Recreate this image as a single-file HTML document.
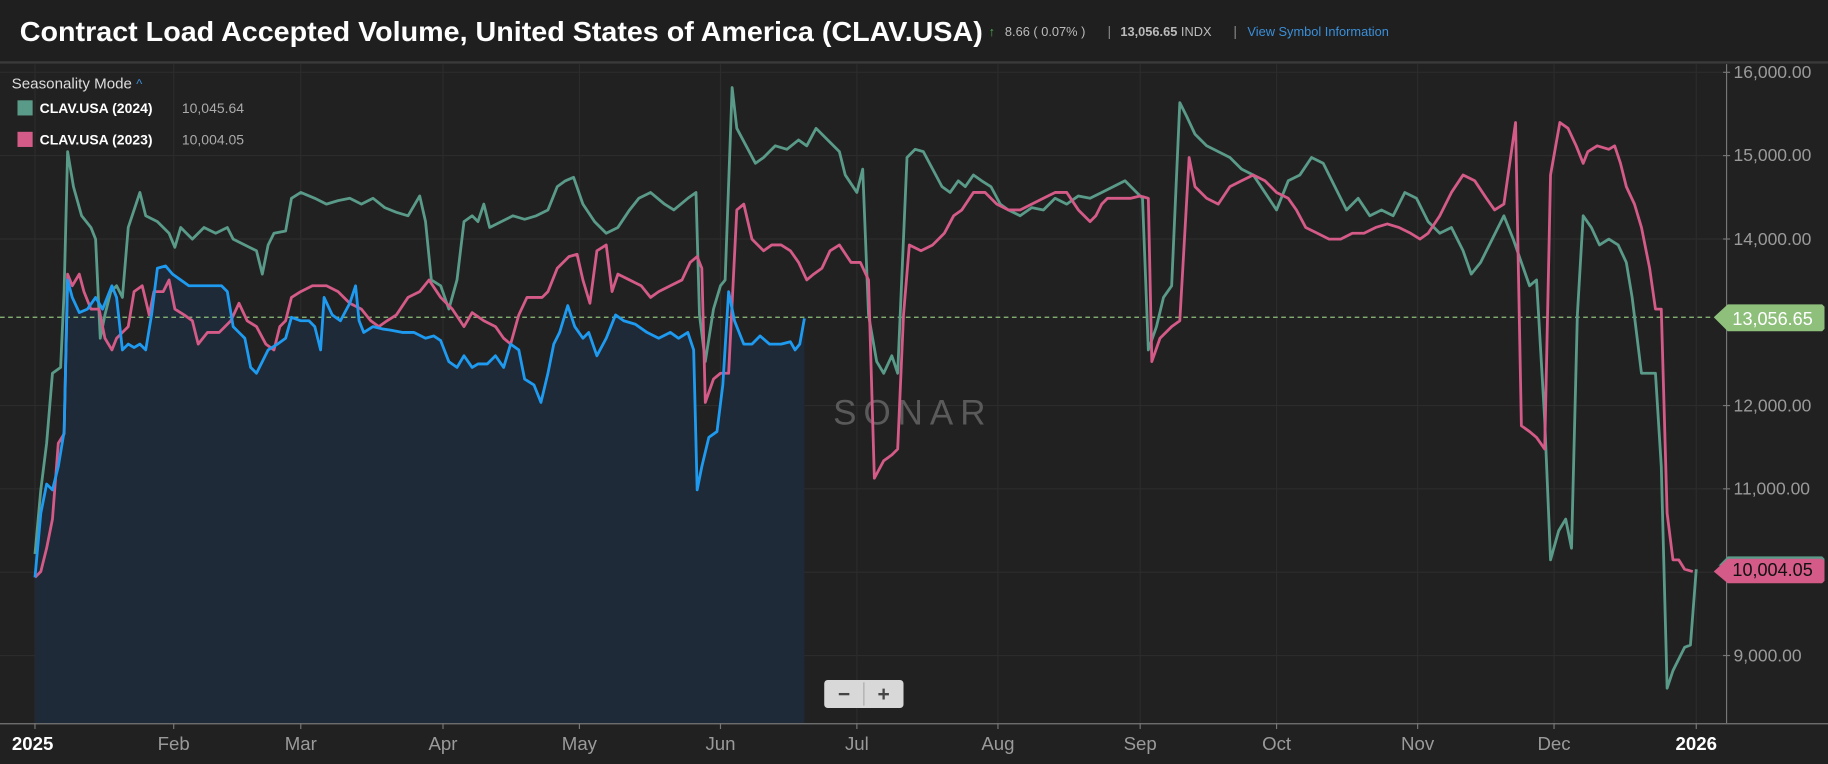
<!DOCTYPE html>
<html><head><meta charset="utf-8"><style>
html,body{margin:0;padding:0;background:#212121;}
svg{display:block;}
text{font-family:"Liberation Sans",sans-serif;}
</style></head><body>
<svg width="1828" height="764" viewBox="0 0 1568 655" preserveAspectRatio="none">
<rect x="0" y="0" width="1568" height="655" fill="#212121"/>
<rect x="0" y="0" width="1568" height="53" fill="#1f1f1f"/>
<line x1="0" y1="53.5" x2="1568" y2="53.5" stroke="#3a3a3a" stroke-width="2"/>
<text x="17" y="35" font-size="24" font-weight="bold" fill="#ffffff" textLength="826" lengthAdjust="spacingAndGlyphs">Contract Load Accepted Volume, United States of America (CLAV.USA)</text>
<text x="848" y="31" font-size="11" fill="#4caf50">↑</text>
<text x="862" y="31" font-size="11" fill="#bbbbbb">8.66 ( 0.07% )</text>
<text x="950" y="31" font-size="12" fill="#888">|</text>
<text x="961" y="31" font-size="11" fill="#bbbbbb" font-weight="bold">13,056.65 <tspan font-weight="normal">INDX</tspan></text>
<text x="1058" y="31" font-size="12" fill="#888">|</text>
<text x="1070" y="31" font-size="11" fill="#3b8fd9">View Symbol Information</text>
<g stroke="#2c2c2c" stroke-width="1">
<line x1="0" y1="62" x2="1481" y2="62"/><line x1="0" y1="133.4" x2="1481" y2="133.4"/>
<line x1="0" y1="204.9" x2="1481" y2="204.9"/><line x1="0" y1="347.7" x2="1481" y2="347.7"/>
<line x1="0" y1="419.1" x2="1481" y2="419.1"/><line x1="0" y1="490.6" x2="1481" y2="490.6"/>
<line x1="0" y1="562" x2="1481" y2="562"/>
<line x1="30" y1="55" x2="30" y2="620"/><line x1="149" y1="55" x2="149" y2="620"/><line x1="258" y1="55" x2="258" y2="620"/>
<line x1="380" y1="55" x2="380" y2="620"/><line x1="497" y1="55" x2="497" y2="620"/><line x1="618" y1="55" x2="618" y2="620"/>
<line x1="735" y1="55" x2="735" y2="620"/><line x1="856" y1="55" x2="856" y2="620"/><line x1="978" y1="55" x2="978" y2="620"/>
<line x1="1095" y1="55" x2="1095" y2="620"/><line x1="1216" y1="55" x2="1216" y2="620"/><line x1="1333" y1="55" x2="1333" y2="620"/>
<line x1="1455" y1="55" x2="1455" y2="620"/>
</g>
<polygon fill="#1e2a38" points="30,620 30,495 35,440 40,415 45,420 50,400 55,370 58,240 62,255 68,268 75,265 82,255 88,265 92,255 96,245 100,255 105,300 110,295 115,298 120,295 125,300 130,270 135,230 142,228 148,235 155,240 162,245 170,245 180,245 190,245 195,250 200,280 205,285 210,290 215,315 220,320 225,310 230,300 238,295 245,290 250,272 258,275 265,275 270,280 275,300 278,255 285,270 292,275 300,260 305,245 308,275 312,285 320,280 328,282 335,283 345,285 355,285 365,290 372,288 378,292 385,310 392,315 398,305 405,315 410,312 418,312 425,305 432,315 438,295 445,300 450,325 458,330 464,345 470,320 475,295 480,285 487,262 493,280 500,290 505,285 512,305 520,290 528,270 535,275 545,278 555,285 565,290 575,285 582,290 590,285 595,300 598,420 602,400 608,375 615,370 620,330 625,250 630,275 638,295 645,295 652,288 660,295 670,295 678,293 682,300 686,295 690,273 690,620"/>
<text x="783" y="364" font-size="30" fill="#5a5a5a" text-anchor="middle" letter-spacing="6">SONAR</text>
<line x1="0" y1="272" x2="1470" y2="272" stroke="#8ec07c" stroke-width="1" stroke-dasharray="4,3"/>
<g fill="none" stroke-width="2.4" stroke-linejoin="round">
<polyline stroke="#5a9a88" points="30,475 35,420 40,380 45,320 52,315 55,250 58,130 63,160 70,185 78,195 82,205 86,290 90,270 95,250 100,245 105,255 110,195 120,165 125,185 135,190 145,200 150,212 155,195 165,205 175,195 185,200 195,195 200,205 210,210 220,215 225,235 230,210 235,200 245,198 250,170 258,165 270,170 280,175 290,172 300,170 310,175 320,170 330,178 340,182 350,185 360,168 365,190 370,240 378,245 385,265 392,240 398,190 405,185 410,190 415,175 420,195 430,190 440,185 450,188 460,185 470,180 478,160 485,155 492,152 500,175 510,190 520,200 530,195 540,180 548,170 558,165 570,175 578,180 590,170 597,165 600,270 605,310 612,265 618,245 622,240 628,75 632,110 640,125 648,140 655,135 665,125 675,128 685,120 692,125 700,110 710,120 720,130 725,150 735,165 740,145 745,270 752,310 758,320 765,305 770,320 778,135 785,128 792,130 800,145 808,160 815,165 822,155 828,160 835,150 842,155 850,160 858,175 865,180 875,185 885,178 895,180 905,170 915,175 925,168 935,170 945,165 955,160 965,155 975,165 980,170 985,300 992,280 998,255 1005,245 1012,88 1018,100 1025,115 1035,125 1045,130 1055,135 1065,145 1075,150 1085,165 1095,180 1105,155 1115,150 1125,135 1135,140 1145,160 1155,180 1165,170 1175,185 1185,180 1195,185 1205,165 1215,170 1225,190 1235,200 1245,195 1255,215 1262,235 1270,225 1280,205 1290,185 1298,205 1305,225 1312,245 1318,240 1325,360 1330,480 1337,455 1343,445 1348,470 1353,270 1358,185 1365,195 1372,210 1380,205 1388,210 1395,225 1400,255 1408,320 1420,320 1425,400 1430,590 1435,575 1440,565 1445,555 1450,553 1455,488"/>
<polyline stroke="#d45a87" points="30,495 35,490 40,470 45,445 50,380 55,372 58,235 62,245 68,235 72,250 78,265 85,265 90,290 96,300 100,290 105,285 110,280 115,250 122,245 128,270 132,250 140,250 145,240 150,265 158,270 165,275 170,295 178,285 188,285 198,275 205,260 212,275 220,280 228,295 235,300 240,280 245,275 250,255 258,250 268,245 280,245 290,250 300,260 310,265 318,275 325,280 332,275 340,270 350,255 360,250 368,240 378,255 388,265 398,280 405,268 415,275 425,280 432,290 438,295 445,270 452,255 465,255 470,250 478,230 488,220 495,218 500,240 506,260 512,215 520,210 525,250 530,235 540,240 550,245 558,255 565,250 575,245 585,240 592,225 598,220 602,230 605,345 612,325 618,320 625,320 632,180 638,175 645,205 655,215 662,210 670,210 678,215 685,225 692,240 698,235 705,230 712,215 720,210 730,225 738,225 745,240 750,410 758,395 765,390 770,385 775,270 780,210 790,215 800,210 810,200 818,185 825,180 835,165 845,165 855,175 865,180 875,180 885,175 895,170 905,165 915,165 925,180 935,190 940,185 945,175 950,170 960,170 970,170 978,168 985,170 988,310 995,290 1005,280 1012,275 1020,135 1025,160 1035,170 1045,175 1055,160 1065,155 1075,150 1085,155 1095,165 1105,170 1112,180 1120,195 1130,200 1140,205 1150,205 1160,200 1170,200 1180,195 1190,192 1200,195 1210,200 1218,205 1225,200 1235,185 1245,165 1255,150 1265,155 1275,170 1282,180 1290,175 1295,140 1300,105 1305,365 1312,370 1318,375 1325,385 1330,150 1338,105 1345,110 1352,125 1358,140 1362,130 1370,125 1380,128 1385,125 1390,140 1395,160 1402,175 1408,195 1415,230 1420,265 1425,265 1430,440 1435,480 1440,480 1445,488 1452,490"/>
<polyline stroke="#1e9bf0" points="30,495 35,440 40,415 45,420 50,400 55,370 58,240 62,255 68,268 75,265 82,255 88,265 92,255 96,245 100,255 105,300 110,295 115,298 120,295 125,300 130,270 135,230 142,228 148,235 155,240 162,245 170,245 180,245 190,245 195,250 200,280 205,285 210,290 215,315 220,320 225,310 230,300 238,295 245,290 250,272 258,275 265,275 270,280 275,300 278,255 285,270 292,275 300,260 305,245 308,275 312,285 320,280 328,282 335,283 345,285 355,285 365,290 372,288 378,292 385,310 392,315 398,305 405,315 410,312 418,312 425,305 432,315 438,295 445,300 450,325 458,330 464,345 470,320 475,295 480,285 487,262 493,280 500,290 505,285 512,305 520,290 528,270 535,275 545,278 555,285 565,290 575,285 582,290 590,285 595,300 598,420 602,400 608,375 615,370 620,330 625,250 630,275 638,295 645,295 652,288 660,295 670,295 678,293 682,300 686,295 690,273"/>
</g>
<line x1="1481" y1="55" x2="1481" y2="620" stroke="#777" stroke-width="1"/>
<line x1="0" y1="620.5" x2="1568" y2="620.5" stroke="#777" stroke-width="1"/>
<g font-size="15" fill="#9a9a9a">
<text x="1487" y="67">16,000.00</text><text x="1487" y="138">15,000.00</text><text x="1487" y="210">14,000.00</text>
<text x="1487" y="353">12,000.00</text><text x="1487" y="424">11,000.00</text><text x="1487" y="567">9,000.00</text>
</g>
<g stroke="#777"><line x1="1478" y1="62" x2="1484" y2="62"/><line x1="1478" y1="133.4" x2="1484" y2="133.4"/><line x1="1478" y1="204.9" x2="1484" y2="204.9"/><line x1="1478" y1="347.7" x2="1484" y2="347.7"/><line x1="1478" y1="419.1" x2="1484" y2="419.1"/><line x1="1478" y1="562" x2="1484" y2="562"/></g>
<polygon points="1470,272 1482,261 1563,261 1565,263 1565,282 1563,284 1482,284" fill="#8ec07c"/>
<text x="1486" y="278.5" font-size="15.5" fill="#ffffff">13,056.65</text>
<polygon points="1474,485 1482,477 1563,477 1565,479 1565,484 1482,484" fill="#5a9a88"/>
<polygon points="1470,488 1482,477 1563,477 1565,479 1565,496 1563,498 1482,498" fill="#d45a87" transform="translate(0,2)"/>
<text x="1486" y="494" font-size="15.5" fill="#111">10,004.05</text>
<g font-size="16" fill="#9a9a9a" text-anchor="middle">
<text x="28" y="643" fill="#ffffff" font-weight="bold">2025</text>
<text x="149" y="643">Feb</text><text x="258" y="643">Mar</text><text x="380" y="643">Apr</text><text x="497" y="643">May</text>
<text x="618" y="643">Jun</text><text x="735" y="643">Jul</text><text x="856" y="643">Aug</text><text x="978" y="643">Sep</text>
<text x="1095" y="643">Oct</text><text x="1216" y="643">Nov</text><text x="1333" y="643">Dec</text>
<text x="1455" y="643" fill="#ffffff" font-weight="bold">2026</text>
</g>
<g stroke="#777"><line x1="30" y1="620" x2="30" y2="625"/><line x1="149" y1="620" x2="149" y2="625"/><line x1="258" y1="620" x2="258" y2="625"/><line x1="380" y1="620" x2="380" y2="625"/><line x1="497" y1="620" x2="497" y2="625"/><line x1="618" y1="620" x2="618" y2="625"/><line x1="735" y1="620" x2="735" y2="625"/><line x1="856" y1="620" x2="856" y2="625"/><line x1="978" y1="620" x2="978" y2="625"/><line x1="1095" y1="620" x2="1095" y2="625"/><line x1="1216" y1="620" x2="1216" y2="625"/><line x1="1333" y1="620" x2="1333" y2="625"/><line x1="1455" y1="620" x2="1455" y2="625"/></g>
<rect x="707" y="583" width="68" height="24" rx="3" fill="#d8d8d8"/>
<line x1="741" y1="585" x2="741" y2="605" stroke="#aaa"/>
<text x="724" y="601" font-size="18" font-weight="bold" fill="#444" text-anchor="middle">−</text>
<text x="758" y="601" font-size="18" font-weight="bold" fill="#444" text-anchor="middle">+</text>
<text x="10" y="76" font-size="13" fill="#dddddd">Seasonality Mode <tspan fill="#3b8fd9" font-size="11">^</tspan></text>
<rect x="15" y="86" width="13" height="13" fill="#5a9a88"/>
<text x="34" y="97" font-size="12" font-weight="bold" fill="#ffffff">CLAV.USA (2024)</text>
<text x="156" y="97" font-size="12" fill="#aaaaaa">10,045.64</text>
<rect x="15" y="113" width="13" height="13" fill="#d45a87"/>
<text x="34" y="124" font-size="12" font-weight="bold" fill="#ffffff">CLAV.USA (2023)</text>
<text x="156" y="124" font-size="12" fill="#aaaaaa">10,004.05</text>
</svg>
</body></html>
